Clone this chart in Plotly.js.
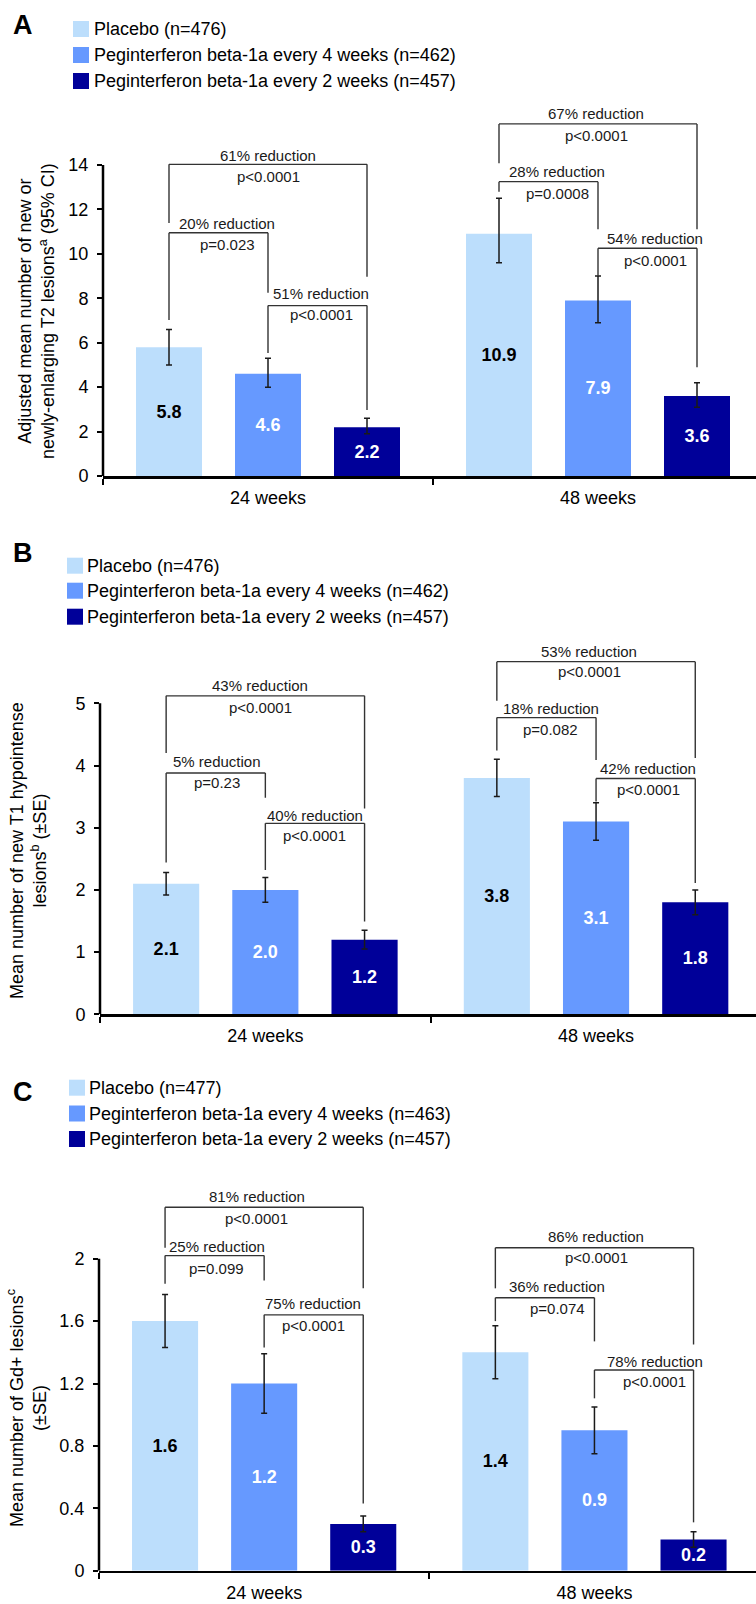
<!DOCTYPE html>
<html><head><meta charset="utf-8">
<script src="https://cdn.plot.ly/plotly-3.0.1.min.js"></script>
<style>html,body{margin:0;padding:0;background:#fff}</style>
</head><body><div id="chart" style="width:756px;height:1604px"></div>
<script>
// ---------------- data ----------------
const categories = ['24 weeks', '48 weeks'];

const legendA = ['Placebo (n=476)', 'Peginterferon beta-1a every 4 weeks (n=462)', 'Peginterferon beta-1a every 2 weeks (n=457)'];
const legendB = ['Placebo (n=476)', 'Peginterferon beta-1a every 4 weeks (n=462)', 'Peginterferon beta-1a every 2 weeks (n=457)'];
const legendC = ['Placebo (n=477)', 'Peginterferon beta-1a every 4 weeks (n=463)', 'Peginterferon beta-1a every 2 weeks (n=457)'];

// Panel A: new or newly-enlarging T2 lesions (95% CI)
const t2Placebo = [5.8, 10.9];
const t2Q4W = [4.6, 7.9];
const t2Q2W = [2.2, 3.6];
const t2PlaceboCIup = [0.8, 1.6];
const t2PlaceboCIdown = [0.8, 1.3];
const t2Q4WCIup = [0.7, 1.1];
const t2Q4WCIdown = [0.6, 1.0];
const t2Q2WCIup = [0.4, 0.6];
const t2Q2WCIdown = [0.3, 0.5];

// Panel B: new T1 hypointense lesions (±SE)
const t1Placebo = [2.1, 3.8];
const t1Q4W = [2.0, 3.1];
const t1Q2W = [1.2, 1.8];
const t1PlaceboSE = [0.18, 0.3];
const t1Q4WSE = [0.2, 0.3];
const t1Q2WSE = [0.15, 0.2];

// Panel C: Gd+ lesions (±SE)
const gdPlacebo = [1.6, 1.4];
const gdQ4W = [1.2, 0.9];
const gdQ2W = [0.3, 0.2];
const gdPlaceboSE = [0.17, 0.17];
const gdQ4WSE = [0.19, 0.15];
const gdQ2WSE = [0.05, 0.05];

const yTicksA = [0, 2, 4, 6, 8, 10, 12, 14];
const yTicksB = [0, 1, 2, 3, 4, 5];
const yTicksC = [0, 0.4, 0.8, 1.2, 1.6, 2];
const yTickTextC = ['0', '0.4', '0.8', '1.2', '1.6', '2'];

const titleA = 'Adjusted mean number of new or<br>newly-enlarging T2 lesions<sup>a</sup> (95% CI)';
const titleB = 'Mean number of new T1 hypointense<br>lesions<sup>b</sup> (±SE)';
const titleC = 'Mean number of Gd+ lesions<sup>c</sup><br>(±SE)';

// comparisons: category index, group from, group to, reduction text, p text
const compCat = [0, 0, 0, 1, 1, 1];
const compFrom = [0, 0, 1, 0, 0, 1];
const compTo = [2, 1, 2, 2, 1, 2];
const reductionA = ['61% reduction', '20% reduction', '51% reduction', '67% reduction', '28% reduction', '54% reduction'];
const pValueA = ['p&lt;0.0001', 'p=0.023', 'p&lt;0.0001', 'p&lt;0.0001', 'p=0.0008', 'p&lt;0.0001'];
const reductionB = ['43% reduction', '5% reduction', '40% reduction', '53% reduction', '18% reduction', '42% reduction'];
const pValueB = ['p&lt;0.0001', 'p=0.23', 'p&lt;0.0001', 'p&lt;0.0001', 'p=0.082', 'p&lt;0.0001'];
const reductionC = ['81% reduction', '25% reduction', '75% reduction', '86% reduction', '36% reduction', '78% reduction'];
const pValueC = ['p&lt;0.0001', 'p=0.099', 'p&lt;0.0001', 'p&lt;0.0001', 'p=0.074', 'p&lt;0.0001'];

// ---------------- layout / style ----------------
const W = 756, H = 1604;
const FONT = 'Liberation Sans, Arial, Helvetica, sans-serif';
const colors = ['#BCDEFC', '#6699FF', '#000099'];
const labelColors = ['#000000', '#FFFFFF', '#FFFFFF'];
const BARGAP = 0.1, BARGROUPGAP = 1 / 3;
const slot = (1 - BARGAP) / 3;
const groupOffset = i => (i - 1) * slot;

// bracket geometry (data units): [top, leftDrop, rightDrop, textX, labelY, pY]
const geomA = [
  [14.03, 11.39, 8.97, 0.0, 14.45, 13.5],
  [10.95, 7.02, 8.25, -0.124, 11.38, 10.44],
  [7.67, 5.54, 2.97, 0.162, 8.2, 7.25],
  [15.85, 14.08, 11.11, 0.994, 16.3, 15.35],
  [13.25, 12.8, 11.11, 0.876, 13.69, 12.73],
  [10.25, 9.0, 4.89, 1.173, 10.67, 9.72]
];
const geomB = [
  [5.12, 4.2, 3.31, -0.016, 5.28, 4.94],
  [3.88, 2.44, 3.48, -0.147, 4.06, 3.72],
  [3.07, 2.32, 1.49, 0.15, 3.2, 2.87],
  [5.67, 5.04, 4.12, 0.98, 5.84, 5.51],
  [4.77, 4.24, 4.09, 0.863, 4.92, 4.58],
  [3.79, 3.42, 2.11, 1.158, 3.95, 3.62]
];
const geomC = [
  [2.33, 2.07, 1.81, -0.023, 2.40, 2.26],
  [2.02, 1.84, 1.86, -0.144, 2.08, 1.94],
  [1.64, 1.43, 0.43, 0.149, 1.71, 1.575],
  [2.07, 1.81, 1.45, 1.005, 2.14, 2.01],
  [1.75, 1.60, 1.47, 0.888, 1.82, 1.68],
  [1.287, 1.105, 0.31, 1.183, 1.344, 1.21]
];

const panels = [
  { letter: 'A', values: [t2Placebo, t2Q4W, t2Q2W],
    up: [t2PlaceboCIup, t2Q4WCIup, t2Q2WCIup], down: [t2PlaceboCIdown, t2Q4WCIdown, t2Q2WCIdown],
    names: legendA, title: titleA, ticks: yTicksA, tickText: yTicksA.map(String),
    reduction: reductionA, pval: pValueA, geom: geomA,
    pos: { x0: 103, catW: 330, y0: 476, ppu: 22.214, yMax: 17, axisTop: 14,
           letter: [22.5, 25], rows: [29, 55, 81], swX: 73, txtX: 92, titleXY: [36, 311] } },
  { letter: 'B', values: [t1Placebo, t1Q4W, t1Q2W],
    up: [t1PlaceboSE, t1Q4WSE, t1Q2WSE], down: [t1PlaceboSE, t1Q4WSE, t1Q2WSE],
    names: legendB, title: titleB, ticks: yTicksB, tickText: yTicksB.map(String),
    reduction: reductionB, pval: pValueB, geom: geomB,
    pos: { x0: 100, catW: 330.7, y0: 1014.3, ppu: 62.2, yMax: 6.1, axisTop: 5,
           letter: [23, 553], rows: [565.7, 590.7, 616.7], swX: 67, txtX: 85, titleXY: [28, 851] } },
  { letter: 'C', values: [gdPlacebo, gdQ4W, gdQ2W],
    up: [gdPlaceboSE, gdQ4WSE, gdQ2WSE], down: [gdPlaceboSE, gdQ4WSE, gdQ2WSE],
    names: legendC, title: titleC, ticks: yTicksC, tickText: yTickTextC,
    reduction: reductionC, pval: pValueC, geom: geomC,
    pos: { x0: 99, catW: 330.3, y0: 1570.7, ppu: 156, yMax: 2.5, axisTop: 2,
           letter: [22.5, 1092], rows: [1087.7, 1113.5, 1139], swX: 69, txtX: 87, titleXY: [27, 1408] } }
];

const traces = [];
const shapes = [];
const annotations = [];
const layout = {
  width: W, height: H,
  margin: { l: 0, r: 0, t: 0, b: 0, pad: 0 },
  paper_bgcolor: '#fff', plot_bgcolor: '#fff',
  barmode: 'group', bargap: BARGAP, bargroupgap: BARGROUPGAP,
  showlegend: false, hovermode: false,
  font: { family: FONT, color: '#000' },
  shapes: shapes, annotations: annotations
};

panels.forEach((p, k) => {
  const sfx = k === 0 ? '' : String(k + 1);
  const xa = 'x' + sfx, ya = 'y' + sfx;
  const P = p.pos;
  const xEnd = W;
  layout['xaxis' + sfx] = {
    type: 'category', anchor: ya,
    domain: [P.x0 / W, xEnd / W],
    range: [-0.5, (xEnd - P.x0) / P.catW - 0.5],
    showline: true, linecolor: '#000', linewidth: 2.5,
    ticks: 'outside', tickson: 'boundaries', ticklen: 6, tickwidth: 2, tickcolor: '#000',
    ticklabelstandoff: 4,
    tickfont: { family: FONT, size: 18, color: '#000' },
    showgrid: false, zeroline: false, fixedrange: true
  };
  layout['yaxis' + sfx] = {
    anchor: xa,
    domain: [1 - P.y0 / H, 1 - (P.y0 - P.yMax * P.ppu) / H],
    range: [0, P.yMax],
    tickmode: 'array', tickvals: p.ticks, ticktext: p.tickText,
    ticks: 'outside', ticklen: 5, tickwidth: 2, tickcolor: '#000',
    ticklabelstandoff: 5,
    tickfont: { family: FONT, size: 18, color: '#000' },
    showline: false, showgrid: false, zeroline: false, fixedrange: true
  };

  // bars
  p.values.forEach((vals, i) => {
    traces.push({
      type: 'bar', x: categories, y: vals, name: p.names[i],
      xaxis: xa, yaxis: ya,
      marker: { color: colors[i], line: { width: 0 } },
      error_y: { type: 'data', symmetric: false, array: p.up[i], arrayminus: p.down[i],
                 color: '#1a1a1a', thickness: 1.5, width: 3 },
      texttemplate: '%{y:.1f}', textposition: 'inside', insidetextanchor: 'middle',
      textangle: 0, constraintext: 'none',
      textfont: { family: FONT, size: 18, color: labelColors[i], weight: 'bold' },
      showlegend: false, hoverinfo: 'skip'
    });
  });

  // y axis line up to the top tick
  shapes.push({ type: 'line', xref: xa + ' domain', yref: ya, x0: 0, x1: 0, y0: 0, y1: P.axisTop,
                line: { color: '#000', width: 2.5 } });

  // comparison brackets
  p.geom.forEach((g, j) => {
    const xl = compCat[j] + groupOffset(compFrom[j]);
    const xr = compCat[j] + groupOffset(compTo[j]);
    const ln = { color: '#333', width: 1.4 };
    shapes.push({ type: 'line', xref: xa, yref: ya, x0: xl, x1: xl, y0: g[1], y1: g[0], line: ln });
    shapes.push({ type: 'line', xref: xa, yref: ya, x0: xl, x1: xr, y0: g[0], y1: g[0], line: ln });
    shapes.push({ type: 'line', xref: xa, yref: ya, x0: xr, x1: xr, y0: g[0], y1: g[2], line: ln });
    annotations.push({ xref: xa, yref: ya, x: g[3], y: g[4], text: p.reduction[j], showarrow: false,
                       xanchor: 'center', yanchor: 'middle', font: { family: FONT, size: 15, color: '#1a1a1a' } });
    annotations.push({ xref: xa, yref: ya, x: g[3], y: g[5], text: p.pval[j], showarrow: false,
                       xanchor: 'center', yanchor: 'middle', font: { family: FONT, size: 15, color: '#1a1a1a' } });
  });

  // y axis title
  annotations.push({ xref: 'paper', yref: 'paper', x: P.titleXY[0] / W, y: 1 - P.titleXY[1] / H,
                     text: p.title, textangle: -90, showarrow: false, xanchor: 'center', yanchor: 'middle',
                     align: 'center', font: { family: FONT, size: 18, color: '#000' } });

  // panel letter
  annotations.push({ xref: 'paper', yref: 'paper', x: P.letter[0] / W, y: 1 - P.letter[1] / H,
                     text: '<b>' + p.letter + '</b>', showarrow: false, xanchor: 'center', yanchor: 'middle',
                     font: { family: FONT, size: 27, color: '#000' } });

  // legend
  p.names.forEach((nm, i) => {
    const cy = P.rows[i];
    shapes.push({ type: 'rect', xref: 'paper', yref: 'paper',
                  x0: P.swX / W, x1: (P.swX + 16) / W, y0: 1 - (cy - 8) / H, y1: 1 - (cy + 8) / H,
                  fillcolor: colors[i], line: { width: 0 } });
    annotations.push({ xref: 'paper', yref: 'paper', x: P.txtX / W, y: 1 - cy / H, text: nm,
                       showarrow: false, xanchor: 'left', yanchor: 'middle',
                       font: { family: FONT, size: 18, color: '#000' } });
  });
});

Plotly.newPlot('chart', traces, layout, { staticPlot: true, displayModeBar: false });
</script>
</body></html>
